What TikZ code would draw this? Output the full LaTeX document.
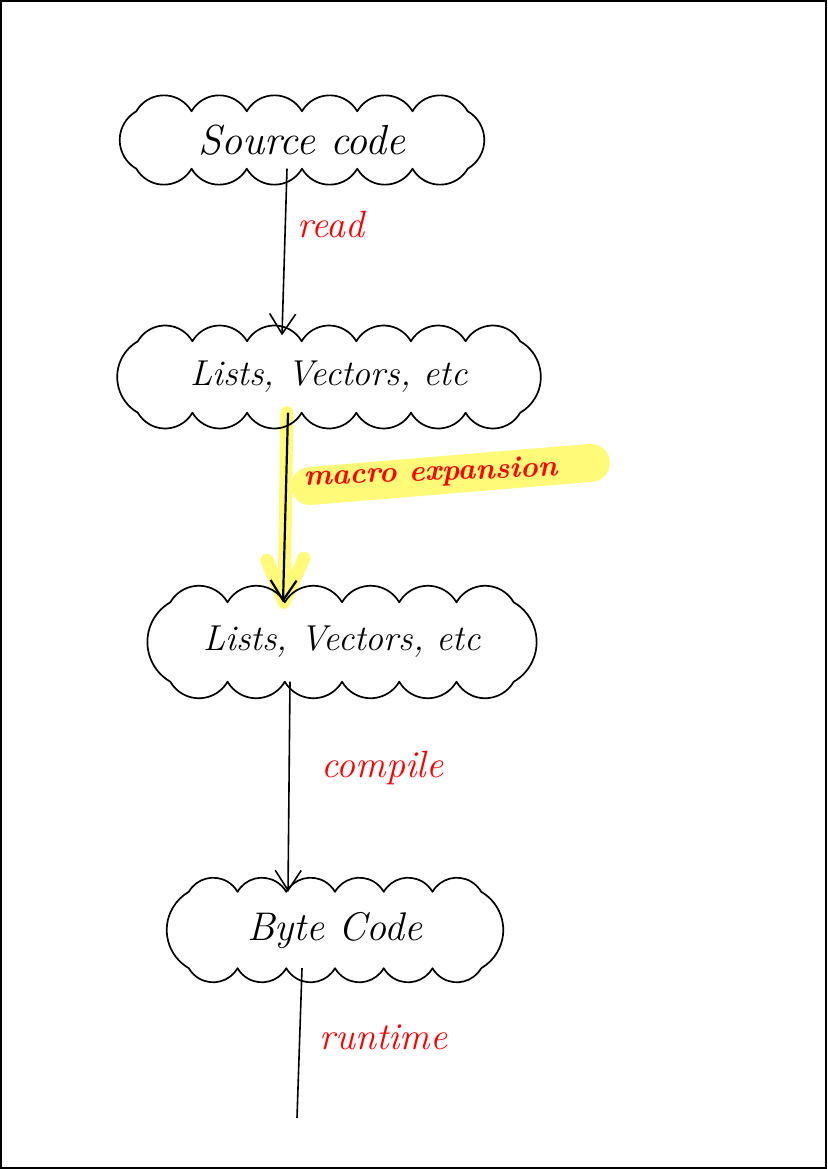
\documentclass[tikz,border=0pt]{standalone}
\usetikzlibrary{arrows.meta,calc,backgrounds}
\definecolor{inkred}{RGB}{255,0,0}
\definecolor{hiyellow}{RGB}{255,250,120}

\tikzset{
  blob/.style={inner sep=0pt, font=\fontsize{36}{42}\selectfont\itshape},
  puffline/.style={line width=1.7pt, line join=round},
  arr/.style={-{Straight Barb[length=20pt,width=26pt]}, line width=1.6pt},
  lbl/.style={text=inkred, anchor=west, font=\fontsize{38}{44}\selectfont\itshape},
  hilite/.style={hiyellow, line width=13pt, line cap=round, line join=round}
}

% cloud outline round a node: #1 node, #2 puffs on top and bottom, #3 puffs on each side
\newcommand\puffs[3]{%
  \draw[puffline] let \p1=($(#1.north east)-(#1.north west)$),
      \p2=($(#1.north west)-(#1.south west)$),
      \n1={\x1/#2/1.732}, \n2={\y2/#3/1.732} in
    (#1.north west)
    \foreach \i in {1,...,#2}{ arc[start angle=150, end angle=30, radius=\n1] }
    \foreach \i in {1,...,#3}{ arc[start angle=60, end angle=-60, radius=\n2] }
    \foreach \i in {1,...,#2}{ arc[start angle=-30, end angle=-150, radius=\n1] }
    \foreach \i in {1,...,#3}{ arc[start angle=240, end angle=120, radius=\n2] } -- cycle;
}

\begin{document}
\begin{tikzpicture}[x=1pt,y=1pt]
\useasboundingbox (0,0) rectangle (827,-1169);
\draw[line width=1.5pt] (1,-1) rectangle (826,-1168);

% --- clouds ---
\node[blob, minimum width=331pt, minimum height=57pt, font=\fontsize{42}{48}\selectfont\itshape]
  (src) at (302,-140) {Source code};
\node[blob, minimum width=382pt, minimum height=71pt]  (lst1) at (329,-377) {Lists, Vectors, etc};
\node[blob, minimum width=343pt, minimum height=79pt]  (lst2) at (342,-642) {Lists, Vectors, etc};
\node[blob, minimum width=292pt, minimum height=76pt, font=\fontsize{40}{46}\selectfont\itshape]
  (bc) at (335,-930) {Byte Code};

\puffs{src}{6}{1}
\puffs{lst1}{7}{1}
\puffs{lst2}{6}{1}
\puffs{bc}{6}{1}

% --- labels ---
\node[lbl] (rd)  at (294,-225) {read};
\node[lbl, rotate=2, font=\fontsize{30}{36}\selectfont\itshape\bfseries] (mex) at (300,-478) {macro expansion};
\node[lbl] (cmp) at (318,-768) {compile};
\node[lbl] (rt)  at (316,-1037) {runtime};

% --- connectors ---
\draw[arr] ([xshift=-15pt]src.south) -- ([xshift=-47pt,yshift=6pt]lst1.north);

\begin{pgfonlayer}{background}
  % yellow marker
  \draw[hilite, line width=38pt] ($(mex.west)+(10,-8)$) -- ($(mex.east)+(30,6)$);
  \draw[hilite] ([xshift=-42pt]lst1.south) -- ([xshift=-58pt]lst2.north);
  \draw[hilite] ($(lst2.north)+(-75,42)$) -- ($(lst2.north)+(-58,0)$) -- ($(lst2.north)+(-38,44)$);
\end{pgfonlayer}
\draw[arr, line width=2.2pt] ([xshift=-41pt]lst1.south) -- ([xshift=-59pt]lst2.north);

\draw[arr] ([xshift=-52pt]lst2.south) -- ([xshift=-47pt]bc.north);

\coordinate (tail) at (297,-1118);
\draw[line width=1.6pt] ([xshift=-33pt]bc.south) -- (tail);
\end{tikzpicture}
\end{document}
